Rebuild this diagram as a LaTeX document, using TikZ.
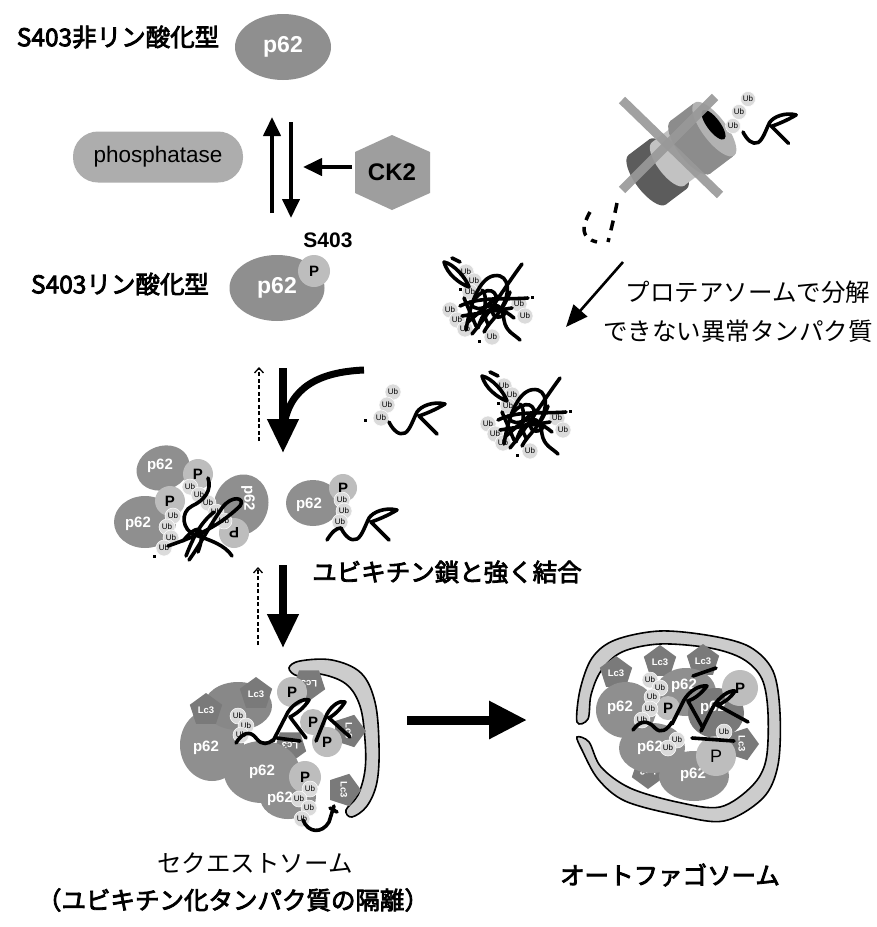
\documentclass[tikz,border=0pt]{standalone}
\usepackage{fontspec}
\setmainfont{Liberation Sans}
\newfontfamily\jp{Noto Sans CJK JP}
\newfontfamily\jpb{Noto Sans CJK JP}[FakeBold=3.2]
\usetikzlibrary{shapes.geometric,arrows.meta}

\definecolor{p62c}{gray}{0.56}
\definecolor{pc}{gray}{0.74}
\definecolor{ubc}{gray}{0.86}
\definecolor{lc3c}{gray}{0.48}
\definecolor{phc}{gray}{0.68}
\definecolor{ckc}{gray}{0.62}
\definecolor{memc}{gray}{0.80}
\definecolor{crossc}{gray}{0.60}
\definecolor{protdark}{gray}{0.36}
\definecolor{protlight}{gray}{0.76}
\definecolor{protmid}{gray}{0.55}
\definecolor{protface}{gray}{0.70}

% one segment of the tilted proteasome barrel: x1, x2, radius, colour
\newcommand\barrelseg[4]{%
  \fill[#4] (#1,0) ellipse[x radius=0.38*#3, y radius=#3];
  \fill[#4] (#1,-#3) rectangle (#2,#3);
  \fill[#4] (#2,0) ellipse[x radius=0.38*#3, y radius=#3];}

\tikzset{
  jlabel/.style={font=\jp\fontsize{24.5}{26}\selectfont, inner sep=0},
  jbold/.style={font=\jpb\fontsize{24.5}{26}\selectfont, inner sep=0},
  p62big/.style={ellipse, fill=p62c, minimum width=96, minimum height=66, inner sep=0,
    text=white, font=\bfseries\fontsize{23}{23}\selectfont},
  ptxt/.style={text=white, inner sep=0, font=\bfseries\fontsize{15}{15}\selectfont},
  pball/.style={circle, fill=pc, minimum size=#1, inner sep=0, font=\bfseries\fontsize{15}{15}\selectfont},
  pball/.default=30,
  ubball/.style={circle, fill=ubc, draw=white, line width=0.5, minimum size=16, inner sep=0,
    font=\fontsize{8}{8}\selectfont},
  lc3/.style={regular polygon, regular polygon sides=5, minimum size=34, fill=lc3c, inner sep=0,
    text=white, font=\bfseries\fontsize{9.5}{9.5}\selectfont},
  worm/.style={line width=3.6, line cap=round, line join=round},
  phosarrow/.style={line width=4, -{Triangle[length=19,width=17]}},
  fatarrow/.style={line width=7.5, -{Triangle[length=34,width=30]}},
  backarrow/.style={line width=1.3, dash pattern=on 4 off 2.5, -{Straight Barb[length=5,width=9]}},
  membrane/.style={fill=memc, draw=black, line width=1.6},
  wormR/.pic={\draw[worm] (0,0) .. controls (4,8) and (10,14) .. (16,11)
      .. controls (21,8) and (24,-2) .. (28,-10) .. controls (32,-16) and (44,-21) .. (56,-18)
      .. controls (46,-12) and (36,-8) .. (30,-6) -- (48,12);},
  aggr/.pic={
    \foreach \a/\b in {-24/-30,-16/-21,-20/-10,-40/8,-33/18,-25/27,29/2,35/14,2/35}
      \node[ubball] at (\a,\b) {Ub};
    \fill (-31,-14) rectangle +(3,3);
    \fill (41,-6) rectangle +(3,3);
    \fill (-12,38) rectangle +(3,3);
    \draw[worm] (-46,-40) .. controls (-36,-38) and (-24,-24) .. (-21,-15)
      .. controls (-30,-18) and (-43,-28) .. (-46,-40);
    \draw[worm] (-38,-44) -- (-30,-40);
    \draw[worm] (32,-38) .. controls (15,-15) and (0,10) .. (-18,32);
    \draw[worm] (-24,28) .. controls (-18,-10) and (-5,-30) .. (10,-26)
      .. controls (22,-22) and (18,0) .. (8,10);
    \draw[worm] (-30,4) .. controls (-10,-6) and (15,-2) .. (38,-4);
    \draw[worm] (-20,0) .. controls (-12,20) and (10,-15) .. (14,18)
      .. controls (16,30) and (24,32) .. (30,38);
    \draw[worm] (-28,14) -- (22,6);
    \draw[worm] (-12,26) .. controls (-6,5) and (5,0) .. (24,16);
    \draw[worm] (-8,-12) .. controls (0,-4) and (-10,10) .. (-2,22);
    \draw[worm] (-16,-2) .. controls (-4,-18) and (12,-12) .. (4,4) .. controls (-2,14) and (10,20) .. (16,10);
    \draw[worm] (-22,20) -- (8,-6);
    \draw[worm] (-6,30) .. controls (0,18) and (12,12) .. (20,-10);
    \draw[worm] (-26,-4) -- (-14,24);},
}

\begin{document}
\begin{tikzpicture}[x=1pt, y=-1pt]
\useasboundingbox (0,0) rectangle (877,927);
\fill[white] (0,0) rectangle (877,927);

% ---------- phosphorylation switch of p62 ----------
\node[jbold] (lblnon) at (118,37) {S403非リン酸化型};
\node[p62big] (p62top) at (283,47) {p62};

\node[rectangle, rounded corners=25, fill=phc, minimum width=170, minimum height=51, inner sep=0,
      font=\fontsize{22.5}{22.5}\selectfont] (phos) at (158,157) {phosphatase};

\fill[ckc] (355,152) -- (392,135) -- (430,152) -- (430,193) -- (392,210) -- (355,193) -- cycle;
\node[inner sep=0, font=\bfseries\fontsize{24}{24}\selectfont] (ck2) at (392,172) {CK2};

\coordinate (upA) at (272,213);  \coordinate (upB) at (272,117);
\coordinate (dnA) at (291,122);  \coordinate (dnB) at (291,218);
\coordinate (ckA) at (352,167);  \coordinate (ckB) at (303,167);
\draw[phosarrow] (upA) -- (upB);
\draw[phosarrow] (dnA) -- (dnB);
\draw[phosarrow] (ckA) -- (ckB);

\node[p62big, minimum width=95] (p62bot) at (277,288) {p62};
\node[pball=32] (pbot) at (314,271) {P};
\node[inner sep=0, font=\bfseries\fontsize{21}{21}\selectfont] (s403) at (328,240) {S403};
\node[jbold] (lblph) at (120,284) {S403リン酸化型};

% ---------- blocked proteasome ----------
\begin{scope}[shift={(684,152)}, rotate=37]
  \barrelseg{-46}{-20}{31}{protdark}
  \barrelseg{-20}{8}{27}{protlight}
  \barrelseg{8}{36}{33}{protmid}
  \fill[protface] (38,0) ellipse[x radius=12, y radius=33];
  \fill[black] (40,-4) ellipse[x radius=6.5, y radius=18];
\end{scope}
\draw[line width=9, crossc, opacity=0.92] (622,100) -- (720,195);
\draw[line width=9, crossc, opacity=0.92] (715,97) -- (622,190);
\node[ubball, minimum size=15] (pu1) at (748,99) {Ub};
\node[ubball, minimum size=15] (pu2) at (739,112) {Ub};
\node[ubball, minimum size=15] (pu3) at (733,126) {Ub};
\pic[scale=0.95] at (743,132) {wormR};

\draw[line width=3.5, dash pattern=on 10 off 8] (617,203) .. controls (614,218) and (611,230) .. (608,242);
\draw[line width=3.5, dash pattern=on 9 off 7] (590,212) .. controls (582,226) and (580,238) .. (597,242);

\coordinate (dgA) at (623,262);  \coordinate (dgB) at (566,327);
\draw[line width=2.6, -{Triangle[length=22,width=18]}] (dgA) -- (dgB);

\node[jlabel] (lblpro1) at (748,292) {プロテアソームで分解};
\node[jlabel] (lblpro2) at (738,331) {できない異常タンパク質};

\pic at (490,302) {aggr};
\pic at (528,416) {aggr};

% ---------- first step: binding of ubiquitinated proteins ----------
\coordinate (f1A) at (283,368);  \coordinate (f1B) at (283,453);
\coordinate (f1C) at (364,370);
\draw[fatarrow] (f1A) -- (f1B);
\draw[line width=7] (f1C) .. controls (318,372) and (290,388) .. (284,425);
\coordinate (b1A) at (259,441);  \coordinate (b1B) at (259,367);
\draw[backarrow] (b1A) -- (b1B);

\node[ubball] (fu1) at (393,392) {Ub};
\node[ubball] (fu2) at (387,405) {Ub};
\node[ubball] (fu3) at (381,418) {Ub};
\fill (364,419) rectangle +(3,3);
\pic at (389,422) {wormR};

% p62 cluster with aggregate
\node[ellipse, fill=p62c, minimum width=54, minimum height=44, rotate=20] (c1a) at (163,468) {};
\node[ptxt] at (160,466) {p62};
\node[ellipse, fill=p62c, minimum width=62, minimum height=52] (c1b) at (145,522) {};
\node[ptxt] at (138,524) {p62};
\node[ellipse, fill=p62c, minimum width=54, minimum height=62, rotate=-20] (c1c) at (241,505) {};
\node[ptxt, rotate=-90] at (248,498) {p62};
\node[pball] (c1p1) at (198,474) {P};
\node[pball] (c1p2) at (170,501) {P};
\node[pball, rotate=180] (c1p3) at (234,533) {P};
\foreach \a/\b in {190/487,199/495,173/516,167/527,171/538,164/548,208/503,216/512,224/521}
  \node[ubball] at (\a,\b) {Ub};
\fill (153,555) rectangle +(3,3);
\draw[worm] (168,546) .. controls (190,538) and (215,530) .. (240,506)
  .. controls (246,498) and (232,494) .. (222,508) .. controls (210,525) and (200,545) .. (189,560);
\draw[worm] (208,478) .. controls (212,490) and (205,500) .. (192,506)
  .. controls (180,512) and (182,530) .. (195,535) .. controls (210,540) and (225,545) .. (232,556);
\draw[worm] (183,541) .. controls (200,520) and (206,530) .. (198,552);
\draw[worm] (186,556) .. controls (196,530) and (204,520) .. (214,512);

% single p62 with ubiquitinated protein
\node[ellipse, fill=p62c, minimum width=54, minimum height=46] (c2) at (313,503) {};
\node[ptxt] at (309,505) {p62};
\node[pball=28] (c2p) at (343,488) {P};
\node[ubball] at (342,500) {Ub};
\node[ubball] at (344,511) {Ub};
\node[ubball] at (340,522) {Ub};
\draw[worm] (327,540) .. controls (332,532) and (336,528) .. (341,528);
\pic at (341,528) {wormR};

\node[jbold] (lblbind) at (447,572) {ユビキチン鎖と強く結合};

% ---------- second step ----------
\coordinate (f2A) at (283,565);  \coordinate (f2B) at (283,648);
\draw[fatarrow] (f2A) -- (f2B);
\coordinate (b2A) at (258,645);  \coordinate (b2B) at (258,567);
\draw[backarrow] (b2A) -- (b2B);

% ---------- sequestosome ----------
\draw[membrane] plot[smooth cycle, tension=0.6] coordinates {(289,668) (300,661) (332,660) (361,673)
  (375,702) (379,745) (377,782) (367,806) (352,817) (346,810) (358,795) (365,770) (365,740)
  (360,706) (346,684) (320,674) (298,676)};
\fill[p62c] (212,745) ellipse[x radius=32, y radius=36];
\fill[lc3c!90!white] (238,706) ellipse[x radius=34, y radius=24];
\node[lc3] at (256,694) {Lc3};
\node[lc3] at (206,710) {Lc3};
\node[lc3, rotate=180] at (309,684) {Lc3};
\node[lc3, rotate=-90] at (349,731) {Lc3};
\node[lc3, rotate=-90] at (344,790) {Lc3};
\node[lc3, rotate=180] at (290,746) {Lc3};
\fill[p62c] (262,772) ellipse[x radius=38, y radius=31];
\fill[p62c] (288,797) ellipse[x radius=28, y radius=22];
\node[ptxt] at (206,748) {p62};
\node[ptxt] at (262,772) {p62};
\node[ptxt] at (280,799) {p62};
\node[pball] at (292,692) {P};
\node[pball=26] at (313,722) {P};
\node[pball] at (327,742) {P};
\node[pball=32] at (305,777) {P};
\foreach \a/\b in {238/716,246/726,241/735,310/789,299/799,309/808,302/819}
  \node[ubball] at (\a,\b) {Ub};
\draw[worm] (236,743) .. controls (242,733) and (250,730) .. (256,738) .. controls (262,746) and (268,744) .. (273,740);
\draw[worm] (273,741) -- (288,712) .. controls (294,703) and (304,698) .. (309,700)
  .. controls (304,708) and (296,714) .. (290,717) -- (306,738);
\draw[worm] (277,738) -- (300,741);
\draw[worm] (316,741) -- (327,714) .. controls (332,705) and (340,700) .. (345,702)
  .. controls (340,710) and (334,715) .. (329,718) -- (350,737);
\draw[worm] (303,820) .. controls (308,833) and (322,834) .. (329,822) -- (334,806);
\draw[worm] (330,808) -- (337,812);

% arrow to the autophagosome
\coordinate (hzA) at (407,720);  \coordinate (hzB) at (527,720);
\draw[line width=9, -{Triangle[length=38,width=36]}] (hzA) -- (hzB);

% ---------- autophagosome ----------
\draw[membrane] plot[smooth cycle, tension=0.55] coordinates {(577,722) (580,690) (592,658) (615,640)
  (660,631) (712,636) (750,647) (773,671) (780,713) (778,765) (763,798) (724,821) (677,815)
  (625,801) (598,779) (582,750) (577,737) (589,742) (601,767) (630,788) (677,802) (720,807)
  (752,786) (766,760) (768,713) (762,679) (743,659) (710,648) (660,644) (622,652) (601,671)
  (591,695) (588,719)};
\node[lc3] at (660,662) {Lc3};
\node[lc3] at (703,661) {Lc3};
\node[lc3] at (616,673) {Lc3};
\fill[p62c] (626,710) ellipse[x radius=30, y radius=28];
\fill[p62c] (686,692) ellipse[x radius=30, y radius=24];
\fill[p62c!85!black] (716,713) ellipse[x radius=28, y radius=25];
\node[lc3, rotate=-90] at (742,744) {Lc3};
\node[lc3, rotate=180] at (648,772) {Lc3};
\fill[p62c] (652,748) ellipse[x radius=33, y radius=25];
\fill[p62c] (694,776) ellipse[x radius=35, y radius=25];
\node[ptxt] at (620,708) {p62};
\node[ptxt] at (684,686) {p62};
\node[ptxt] at (713,708) {p62};
\node[ptxt] at (650,748) {p62};
\node[ptxt] at (693,775) {p62};
\node[pball=36] at (740,688) {P};
\node[pball=24] at (668,708) {P};
\node[pball=40, font=\fontsize{18}{18}\selectfont] at (716,756) {P};
\foreach \a/\b in {650/680,660/688,652/697,650/709,642/720,677/740,668/748,724/732}
  \node[ubball] at (\a,\b) {Ub};
\draw[worm] (633,730) .. controls (640,720) and (648,720) .. (655,728) .. controls (661,734) and (667,730) .. (672,722);
\draw[worm] (672,724) -- (684,700) .. controls (690,690) and (700,685) .. (707,686)
  .. controls (701,694) and (694,699) .. (688,701) -- (703,728);
\draw[worm] (693,676) -- (716,668);
\draw[worm] (701,731) -- (713,707) .. controls (719,697) and (729,690) .. (735,691)
  .. controls (730,699) and (723,703) .. (717,705) -- (748,722);
\draw[worm] (692,738) -- (734,741);

% ---------- captions ----------
\node[jlabel] (lblseq) at (255,863) {セクエストソーム};
\node[jbold] (lblseq2) at (233,900) {（ユビキチン化タンパク質の隔離）};
\node[jbold] (lblauto) at (670,875) {オートファゴソーム};
\end{tikzpicture}
\end{document}
